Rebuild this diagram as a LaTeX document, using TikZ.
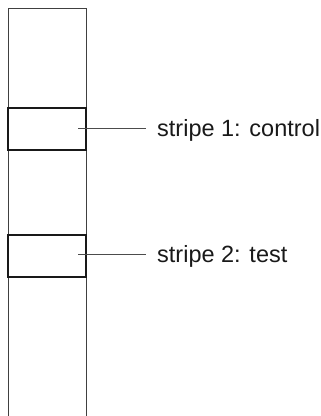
\documentclass[tikz,border=0pt]{standalone}
\usepackage{fontspec}
\setmainfont{Liberation Sans}
\begin{document}
\begin{tikzpicture}[x=1pt,y=1pt,
  stripline/.style={draw=black!75,line width=1pt},
  stripebox/.style={draw=black!90,line width=2pt,minimum width=78pt,minimum height=42pt,inner sep=0pt,outer sep=0pt},
  leader/.style={draw=black!70,line width=1pt},
  lbl/.style={font=\fontsize{23.5}{28}\selectfont,inner sep=0pt,anchor=base west,text=black!90}]
\useasboundingbox (0,0) rectangle (321,416);
\draw[stripline] (8,0) -- (8,407) -- (86,407) -- (86,0);
\node[stripebox] (s1) at (47,287) {};
\node[stripebox] (s2) at (47,160) {};
\node[lbl] (l1) at (157,279) {stripe 1: control};
\node[lbl] (l2) at (157,153) {stripe 2: test};
\coordinate (c1) at (78,287);
\coordinate (c2) at (78,161);
\coordinate (e1) at (146,287);
\coordinate (e2) at (146,161);
\draw[leader] (c1) -- (e1);
\draw[leader] (c2) -- (e2);
\end{tikzpicture}
\end{document}
